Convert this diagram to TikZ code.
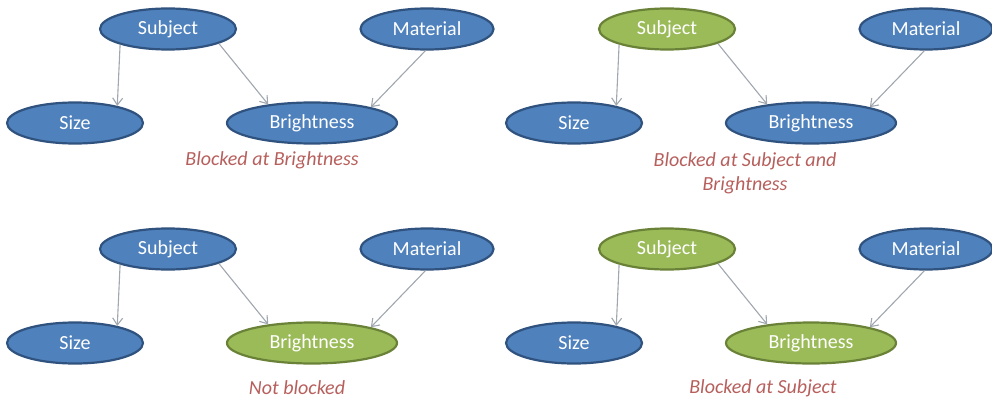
\documentclass[tikz,border=0pt]{standalone}
\usepackage{fontspec}
\setmainfont{Carlito}
\usetikzlibrary{shapes.geometric,arrows.meta}
\definecolor{nodeblue}{HTML}{4F81BD}
\definecolor{nodebluedark}{HTML}{30527E}
\definecolor{nodegreen}{HTML}{9BBB59}
\definecolor{nodegreendark}{HTML}{6A8238}
\definecolor{notered}{HTML}{B65F5C}
\definecolor{linkgray}{HTML}{A0A7AF}

\tikzset{
  var/.style={ellipse, draw=nodebluedark, fill=nodeblue, line width=2.2pt, text=white, inner sep=0pt, minimum height=41pt, font=\fontsize{20}{24}\selectfont},
  obs/.style={var, draw=nodegreendark, fill=nodegreen},
  link/.style={->, draw=linkgray, line width=1.1pt},
  note/.style={text=notered, font=\fontsize{20}{24}\selectfont\itshape, align=center}
}

\begin{document}
\begin{tikzpicture}[x=1pt, y=-1pt, >={Straight Barb[length=7pt,width=10pt]}]
    \useasboundingbox (0,0) rectangle (992,401);
    % one panel per case: shift, colour of Subject and Brightness, caption
    \foreach \p/\dx/\dy/\sc/\bc/\lx/\ly/\txt in {
        1/0/0/var/var/272/160/{Blocked at Brightness},
        2/499/0/obs/var/246/173/{Blocked at Subject and\\Brightness},
        3/0/220/var/obs/297/168/{Not blocked},
        4/499/220/obs/obs/264/168/{Blocked at Subject}}{
    \begin{scope}[shift={(\dx,\dy)}]
        \node[\sc, minimum width=136pt] (subj\p) at (168,29) {Subject};
        \node[var, minimum width=133pt] (mat\p) at (427,29) {Material};
        \node[var, minimum width=136pt] (size\p) at (75,123) {Size};
        \node[\bc, minimum width=170pt] (bright\p) at (312,123) {Brightness};
        \node[note] (cap\p) at (\lx,\ly) {\txt};
        \draw[link] (subj\p.198) -- (size\p.22);
        \draw[link] (subj\p.344) -- (bright\p.157);
        \draw[link] (mat\p.266) -- (bright\p.15);
    \end{scope}
    }
\end{tikzpicture}
\end{document}
